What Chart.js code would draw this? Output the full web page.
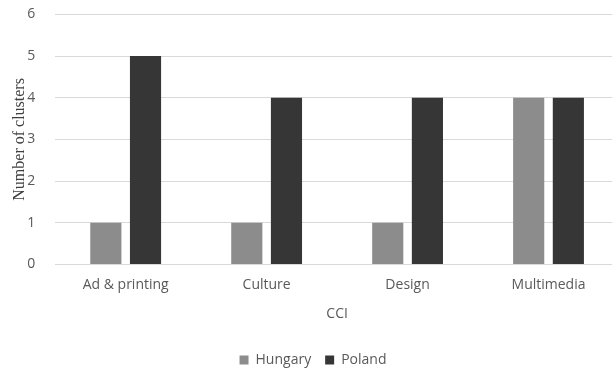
<!DOCTYPE html>
<html>
<head>
<meta charset="utf-8">
<script src="https://cdn.jsdelivr.net/npm/chart.js@4/dist/chart.umd.min.js"></script>
<style>
  html, body { margin: 0; padding: 0; background: #fff; overflow: hidden; }
  #wrap { width: 619px; height: 377px; }
</style>
</head>
<body>
<div id="wrap"><canvas id="bar-chart"></canvas></div>
<script>
var categories = ["Ad & printing", "Culture", "Design", "Multimedia"];
var hungary = [1, 1, 1, 4];
var poland = [5, 4, 4, 4];

var tickFont = { family: "'Open Sans', 'Liberation Sans', sans-serif", size: 14 };

new Chart(document.getElementById("bar-chart"), {
    type: 'bar',
    data: {
        labels: categories,
        datasets: [
            {
                label: "Hungary",
                backgroundColor: "#8c8c8c",
                data: hungary
            },
            {
                label: "Poland",
                backgroundColor: "#363636",
                data: poland
            }
        ]
    },
    options: {
        responsive: true,
        maintainAspectRatio: false,
        animation: false,
        categoryPercentage: 0.563,
        barPercentage: 0.785,
        layout: { padding: { top: 0, right: 0, left: 7, bottom: 0 } },
        plugins: {
            legend: {
                position: 'bottom',
                labels: {
                    boxWidth: 9,
                    boxHeight: 9,
                    color: "#595959",
                    font: tickFont,
                    padding: 14
                }
            },
            tooltip: { enabled: false }
        },
        scales: {
            x: {
                grid: { display: false },
                border: { color: "#d9d9d9", width: 1 },
                ticks: { color: "#595959", font: tickFont, padding: 4 },
                title: {
                    display: true,
                    text: "CCI",
                    color: "#595959",
                    font: tickFont,
                    padding: { top: 8, bottom: 17 }
                }
            },
            y: {
                min: 0,
                max: 6,
                ticks: { stepSize: 1, color: "#595959", font: tickFont, padding: 6 },
                grid: { color: "#d9d9d9", drawTicks: true, tickLength: 14, tickColor: "rgba(0,0,0,0)" },
                border: { display: false },
                title: {
                    display: true,
                    text: "Number of clusters",
                    color: "#404040",
                    font: { family: "'Liberation Serif', serif", size: 16 },
                    padding: { top: 3, bottom: -8 }
                }
            }
        }
    }
});
</script>
</body>
</html>
